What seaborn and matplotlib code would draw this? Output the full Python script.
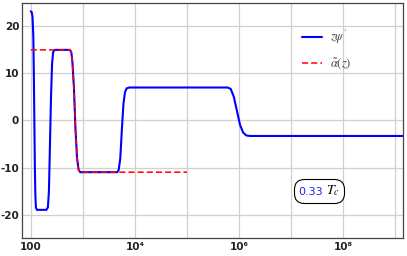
import numpy as np
import pandas as pd
import matplotlib
matplotlib.use("Agg")
import matplotlib.pyplot as plt
import seaborn as sns
from matplotlib.ticker import FixedLocator, FixedFormatter, NullFormatter
from matplotlib.font_manager import FontProperties
from matplotlib.offsetbox import TextArea, HPacker, AnnotationBbox

# curve z*psi' (log10 z, value)
psi_logz = [2.00, 2.02, 2.035, 2.05, 2.06, 2.07, 2.08, 2.09, 2.10, 2.12,
            2.30, 2.33, 2.35, 2.37, 2.39, 2.41, 2.43, 2.46,
            2.75, 2.78, 2.80, 2.83, 2.86, 2.89, 2.92, 2.95,
            3.66, 3.69, 3.72, 3.75, 3.78, 3.81, 3.84, 3.89,
            5.78, 5.84, 5.90, 5.96, 6.02, 6.08, 6.14, 6.22, 9.15]
psi_vals = [23.2, 23.0, 22.0, 18.0, 10.0, 0.0, -10.0, -16.0, -18.5, -19.0,
            -19.0, -18.5, -15.0, -5.0, 5.0, 12.0, 14.5, 15.0,
            15.0, 14.5, 12.5, 7.0, -2.0, -8.0, -10.5, -11.0,
            -11.0, -10.5, -8.0, -2.0, 3.5, 6.0, 6.8, 7.0,
            7.0, 6.7, 5.0, 2.0, -1.0, -2.6, -3.2, -3.3, -3.3]

# alpha tilde(z), red dashed
alpha_logz = [2.00, 2.74, 2.77, 2.80, 2.83, 2.86, 2.89, 2.92, 2.95, 5.00]
alpha_vals = [15.0, 15.0, 14.8, 12.5, 7.0, -2.0, -8.0, -10.5, -11.0, -11.0]

xtick_pos = [1e2, 1e4, 1e6, 1e8]
xtick_labels = ["100", "10⁴", "10⁶", "10⁸"]
ytick_pos = [-20, -10, 0, 10, 20]

df_psi = pd.DataFrame({"z": 10 ** np.array(psi_logz), "v": psi_vals})
df_alpha = pd.DataFrame({"z": 10 ** np.array(alpha_logz), "v": alpha_vals})

sns.set_style("white")
plt.rcParams["font.family"] = ["DejaVu Sans"]
plt.rcParams["axes.unicode_minus"] = False

fig = plt.figure(figsize=(4.07, 2.56), dpi=100)
ax = fig.add_axes([0.054, 0.07, 0.936, 0.919])

sns.lineplot(data=df_psi, x="z", y="v", color="#0000ff", linewidth=1.5,
             label="$z\\psi'$", ax=ax)
sns.lineplot(data=df_alpha, x="z", y="v", color="#ff0000", linewidth=1.1,
             linestyle=(0, (4, 2)), label="$\\tilde{\\alpha}(z)$", ax=ax)

ax.set_xscale("log")
ax.set_xlim(68, 1.4e9)
ax.set_ylim(-25, 25)
ax.set_xlabel("")
ax.set_ylabel("")

ax.xaxis.set_major_locator(FixedLocator(xtick_pos))
ax.xaxis.set_major_formatter(FixedFormatter(xtick_labels))
ax.xaxis.set_minor_locator(FixedLocator([1e3, 1e5, 1e7, 1e9]))
ax.xaxis.set_minor_formatter(NullFormatter())
ax.yaxis.set_major_locator(FixedLocator(ytick_pos))
ax.yaxis.set_minor_locator(FixedLocator(list(np.arange(-24, 25, 2))))
ax.yaxis.set_minor_formatter(NullFormatter())

ax.grid(True, which="major", color="#d0d0d0", linewidth=0.9)
ax.grid(True, which="minor", axis="x", color="#d0d0d0", linewidth=0.9)
ax.tick_params(axis="both", which="major", direction="in", length=4,
               width=0.7, color="#555555", labelsize=7.5, pad=3)
ax.tick_params(axis="y", which="major", pad=2)
ax.tick_params(axis="both", which="minor", direction="in", length=2,
               width=0.5, color="#555555")
for lab in ax.get_xticklabels() + ax.get_yticklabels():
    lab.set_fontweight("bold")
    lab.set_color("#222222")
for sp in ax.spines.values():
    sp.set_color("#444444")
    sp.set_linewidth(0.9)

leg = ax.legend(loc="center", bbox_to_anchor=(0.80, 0.80), frameon=False,
                handlelength=1.6, handletextpad=0.6, labelspacing=0.8,
                prop=FontProperties(size=9, math_fontfamily="stix"))
for t in leg.get_texts():
    t.set_color("#444444")

# temperature label box
ta1 = TextArea("0.33", textprops=dict(color="#2222ee", fontsize=8))
ta2 = TextArea("$T_c$", textprops=dict(color="black", fontsize=10,
                                       math_fontfamily="stix"))
box = HPacker(children=[ta1, ta2], align="baseline", pad=0, sep=2)
ab = AnnotationBbox(box, (0.78, 0.2), xycoords="axes fraction",
                    frameon=True, pad=0.3,
                    bboxprops=dict(boxstyle="round,pad=0.3,rounding_size=0.7",
                                   fc="white", ec="black", lw=0.8))
ax.add_artist(ab)

fig.savefig("out.png", dpi=100)
